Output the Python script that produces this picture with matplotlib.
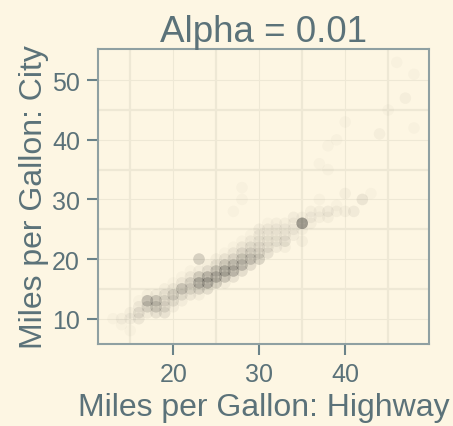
import numpy as np
import matplotlib
matplotlib.use("Agg")
import matplotlib.pyplot as plt

# === Data: (highway mpg, city mpg, number of vehicles at that spot) ===
hwy = [13, 14, 14, 15, 15, 15,
       16, 16, 16, 16,
       17, 17, 17, 17,
       18, 18, 18, 18,
       19, 19, 19, 19, 19,
       20, 20, 20, 20, 20,
       21, 21, 21, 21, 21,
       22, 22, 22, 22, 22,
       23, 23, 23, 23, 23, 23,
       24, 24, 24, 24, 24,
       25, 25, 25, 25, 25,
       26, 26, 26, 26, 26, 26,
       27, 27, 27, 27, 27, 27, 27,
       28, 28, 28, 28, 28, 28, 28, 28,
       29, 29, 29, 29, 29, 29,
       30, 30, 30, 30, 30, 30,
       31, 31, 31, 31, 31, 31,
       32, 32, 32, 32, 32,
       33, 33, 33, 33, 33,
       34, 34, 34, 34,
       35, 35, 35, 35,
       36, 36, 36,
       37, 37, 37, 37,
       38, 38, 38, 38,
       39, 39, 39,
       40, 40, 40,
       41, 42, 43, 44, 45, 46, 47, 48, 48]
cty = [10, 9, 10, 8, 10, 11,
       10, 11, 12, 13,
       11, 12, 13, 14,
       11, 12, 13, 14,
       11, 12, 13, 14, 15,
       12, 13, 14, 15, 16,
       13, 14, 15, 16, 17,
       14, 15, 16, 17, 18,
       14, 15, 16, 17, 18, 20,
       15, 16, 17, 18, 19,
       16, 17, 18, 19, 20,
       16, 17, 18, 19, 20, 21,
       17, 18, 19, 20, 21, 22, 28,
       18, 19, 20, 21, 22, 23, 30, 32,
       19, 20, 21, 22, 23, 24,
       20, 21, 22, 23, 24, 25,
       21, 22, 23, 24, 25, 26,
       22, 23, 24, 25, 26,
       22, 23, 24, 25, 26,
       24, 25, 26, 27,
       23, 25, 26, 27,
       26, 27, 28,
       27, 28, 30, 36,
       27, 28, 35, 39,
       28, 29, 40,
       28, 31, 43,
       28, 30, 31, 41, 45, 53, 47, 51, 42]
count = [2, 2, 3, 2, 4, 3,
         6, 8, 5, 2,
         5, 12, 22, 3,
         8, 15, 18, 5,
         8, 9, 10, 7, 3,
         4, 8, 14, 5, 2,
         4, 8, 18, 5, 2,
         6, 10, 12, 5, 2,
         3, 12, 25, 15, 4, 16,
         10, 25, 22, 8, 3,
         15, 22, 18, 7, 3,
         4, 18, 25, 15, 6, 2,
         8, 22, 20, 10, 5, 2, 2,
         10, 20, 15, 10, 5, 2, 2, 2,
         10, 16, 12, 8, 4, 2,
         14, 10, 8, 6, 5, 4,
         8, 6, 6, 5, 4, 2,
         5, 6, 5, 4, 3,
         3, 8, 5, 4, 3,
         4, 4, 3, 4,
         3, 3, 42, 3,
         3, 4, 3,
         3, 3, 2, 2,
         3, 5, 2, 2,
         3, 2, 2,
         3, 3, 2,
         5, 7, 2, 3, 2, 2, 3, 2, 2]

ALPHA = 0.01

# === Solarized colours ===
base3 = "#fdf6e3"
base2 = "#eee8d5"
border = "#8fa0a2"
text_col = "#5b7279"

# stacked points at alpha 0.01 -> one marker with the combined opacity
n = np.array(count)
alphas = 1 - (1 - ALPHA) ** n
colors = np.zeros((len(n), 4))
colors[:, 3] = alphas

fig = plt.figure(figsize=(4.53, 4.27), dpi=100, facecolor=base3)
ax = fig.add_axes([0.2163, 0.192, 0.9470 - 0.2163, 0.883 - 0.192])
ax.set_facecolor(base3)

ax.scatter(hwy, cty, s=70, c=colors, edgecolors="none", zorder=3)

# limits with ggplot-style 5% expansion
xmin, xmax = min(hwy), max(hwy)
ymin, ymax = min(cty), max(cty)
dx = (xmax - xmin) * 0.05
dy = (ymax - ymin) * 0.05
ax.set_xlim(xmin - dx, xmax + dx)
ax.set_ylim(ymin - dy, ymax + dy)

ax.set_xticks([20, 30, 40])
ax.set_yticks([10, 20, 30, 40, 50])
ax.set_xticks([15, 25, 35, 45], minor=True)
ax.set_yticks([15, 25, 35, 45], minor=True)
ax.grid(True, which="major", color=base2, linewidth=0.8, zorder=0)
ax.grid(True, which="minor", color=base2, linewidth=1.6, zorder=0)
ax.set_axisbelow(True)

ax.tick_params(which="major", length=8, width=1.5, color="#6b8389",
               labelcolor=text_col, labelsize=18, pad=5)
ax.tick_params(which="minor", length=0)
for sp in ax.spines.values():
    sp.set_color(border)
    sp.set_linewidth(1.5)

ax.set_title("Alpha = 0.01", fontsize=26.5, color=text_col, pad=5,
             family="Liberation Sans")
ax.set_xlabel("Miles per Gallon: Highway", fontsize=23, color=text_col,
              family="Liberation Sans", labelpad=4)
ax.set_ylabel("Miles per Gallon: City", fontsize=23, color=text_col,
              family="Liberation Sans", labelpad=2)
for lab in ax.get_xticklabels() + ax.get_yticklabels():
    lab.set_family("Liberation Sans")

fig.savefig("out.png", dpi=100, facecolor=base3)
